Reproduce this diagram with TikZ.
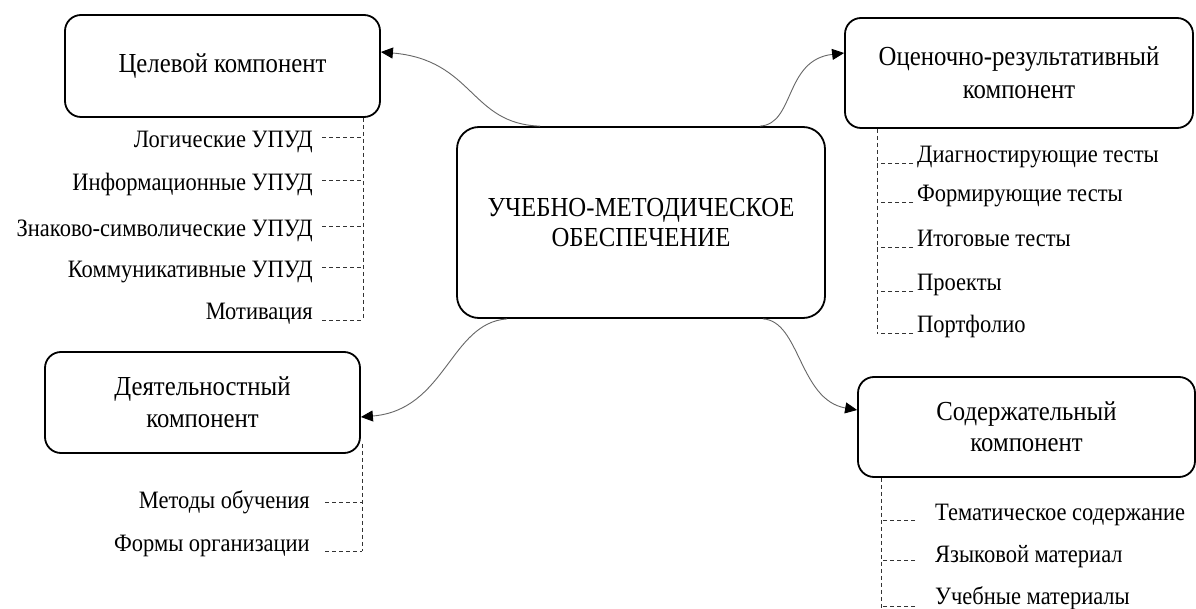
\documentclass[tikz,border=0pt]{standalone}
\usepackage{fontspec}
\setmainfont{Liberation Serif}[FakeStretch=0.9]
\usetikzlibrary{arrows.meta,calc}
\begin{document}
\begin{tikzpicture}[x=1pt,y=-1pt,
  box/.style={draw,line width=1.8pt,rounded corners=16pt,align=center,inner sep=0pt,font=\fontsize{27.5}{33}\selectfont},
  item/.style={inner sep=0pt,text height=16pt,text depth=0pt,font=\fontsize{25}{30}\selectfont},
  dsh/.style={draw=black!80,line width=0.7pt,dash pattern=on 4pt off 3pt},
  con/.style={draw=black!60,line width=0.9pt,-{Triangle[length=12pt,width=11pt,color=black]}}]
\fill[white] (0,0) rectangle (1196,609);
\useasboundingbox (0,0) rectangle (1196,609);
\coordinate (bot) at (0,609);
% main boxes
\node[box,minimum width=315pt,minimum height=102pt] (cel) at (222.5,66) {Целевой компонент};
\node[box,minimum width=348pt,minimum height=110pt] (ocen) at (1019,73) {Оценочно-результативный\\компонент};
\node[box,minimum width=368pt,minimum height=191pt,rounded corners=22pt,font=\fontsize{27.5}{30}\selectfont] (um) at (641,222.5) {УЧЕБНО-МЕТОДИЧЕСКОЕ\\ОБЕСПЕЧЕНИЕ};
\node[box,minimum width=315pt,minimum height=101pt,font=\fontsize{27.5}{32}\selectfont] (dey) at (202.5,402.5) {Деятельностный\\компонент};
\node[box,minimum width=337pt,minimum height=100pt,font=\fontsize{27.5}{31}\selectfont] (sod) at (1026.5,427) {Содержательный\\компонент};
% connectors
\draw[con] ([xshift=-101pt]um.north) .. controls +(-70,-2) and +(93,8) .. ([yshift=14pt]cel.east);
\draw[con] ([xshift=119pt]um.north) .. controls +(35,-2) and +(-60,7) .. ([yshift=20pt]ocen.west);
\draw[con] ([xshift=-134pt]um.south) .. controls +(-57,4) and +(85,-7) .. ([yshift=-14.5pt]dey.east);
\draw[con] ([xshift=122pt]um.south) .. controls +(37,2) and +(-58,-10) .. ([yshift=17pt]sod.west);
% left top list
\node[item,anchor=east] (l1) at (313,140) {Логические УПУД};
\node[item,anchor=east] (l2) at (313,183) {Информационные УПУД};
\node[item,anchor=east] (l3) at (313,229) {Знаково-символические УПУД};
\node[item,anchor=east] (l4) at (313,270) {Коммуникативные УПУД};
\node[item,anchor=east] (l5) at (313,312) {Мотивация};
\coordinate (cv1) at ([xshift=-18pt]cel.south east);
\draw[dsh] (cv1) -- (cv1 |- l5.south);
\foreach \n in {l1,l2,l3,l4}
  \draw[dsh] ([xshift=9pt,yshift=3pt]\n.east) coordinate (t) -- (t -| cv1);
\draw[dsh] ([xshift=9pt]l5.south east) coordinate (t) -- (t -| cv1);
% right top list
\node[item,anchor=south west] (r1) at (917,163) {Диагностирующие тесты};
\node[item,anchor=south west] (r2) at (917,202) {Формирующие тесты};
\node[item,anchor=south west] (r3) at (917,247) {Итоговые тесты};
\node[item,anchor=south west] (r4) at (917,291) {Проекты};
\node[item,anchor=south west] (r5) at (917,333) {Портфолио};
\coordinate (cv2) at ([xshift=33pt]ocen.south west);
\draw[dsh] (cv2) -- (cv2 |- r5.south west);
\foreach \n in {r1,r2,r3,r4,r5}
  \draw[dsh] ([xshift=-4pt]\n.south west) coordinate (t) -- (t -| cv2);
% left bottom list
\node[item,anchor=east] (d1) at (310,500) {Методы обучения};
\node[item,anchor=east] (d2) at (310,543) {Формы организации};
\coordinate (cv3) at ([xshift=1pt,yshift=10pt]dey.south east);
\draw[dsh] (cv3) -- (cv3 |- d2.south);
\draw[dsh] ([xshift=15pt,yshift=-2pt]d1.east) coordinate (t) -- (t -| cv3);
\draw[dsh] ([xshift=15pt]d2.south east) coordinate (t) -- (t -| cv3);
% right bottom list
\node[item,anchor=south west] (s1) at (935,521) {Тематическое содержание};
\node[item,anchor=south west] (s2) at (935,563) {Языковой материал};
\node[item,anchor=south west] (s3) at (935,605) {Учебные материалы};
\coordinate (cv4) at ([xshift=24pt]sod.south west);
\draw[dsh] (cv4) -- (cv4 |- bot);
\draw[dsh] ([xshift=-20pt,yshift=1pt]s1.south west) coordinate (t) -- (t -| cv4);
\draw[dsh] ([xshift=-20pt,yshift=3pt]s2.south west) coordinate (t) -- (t -| cv4);
\draw[dsh] ([xshift=-20pt,yshift=-1pt]s3.south west) coordinate (t) -- (t -| cv4);
\end{tikzpicture}
\end{document}
